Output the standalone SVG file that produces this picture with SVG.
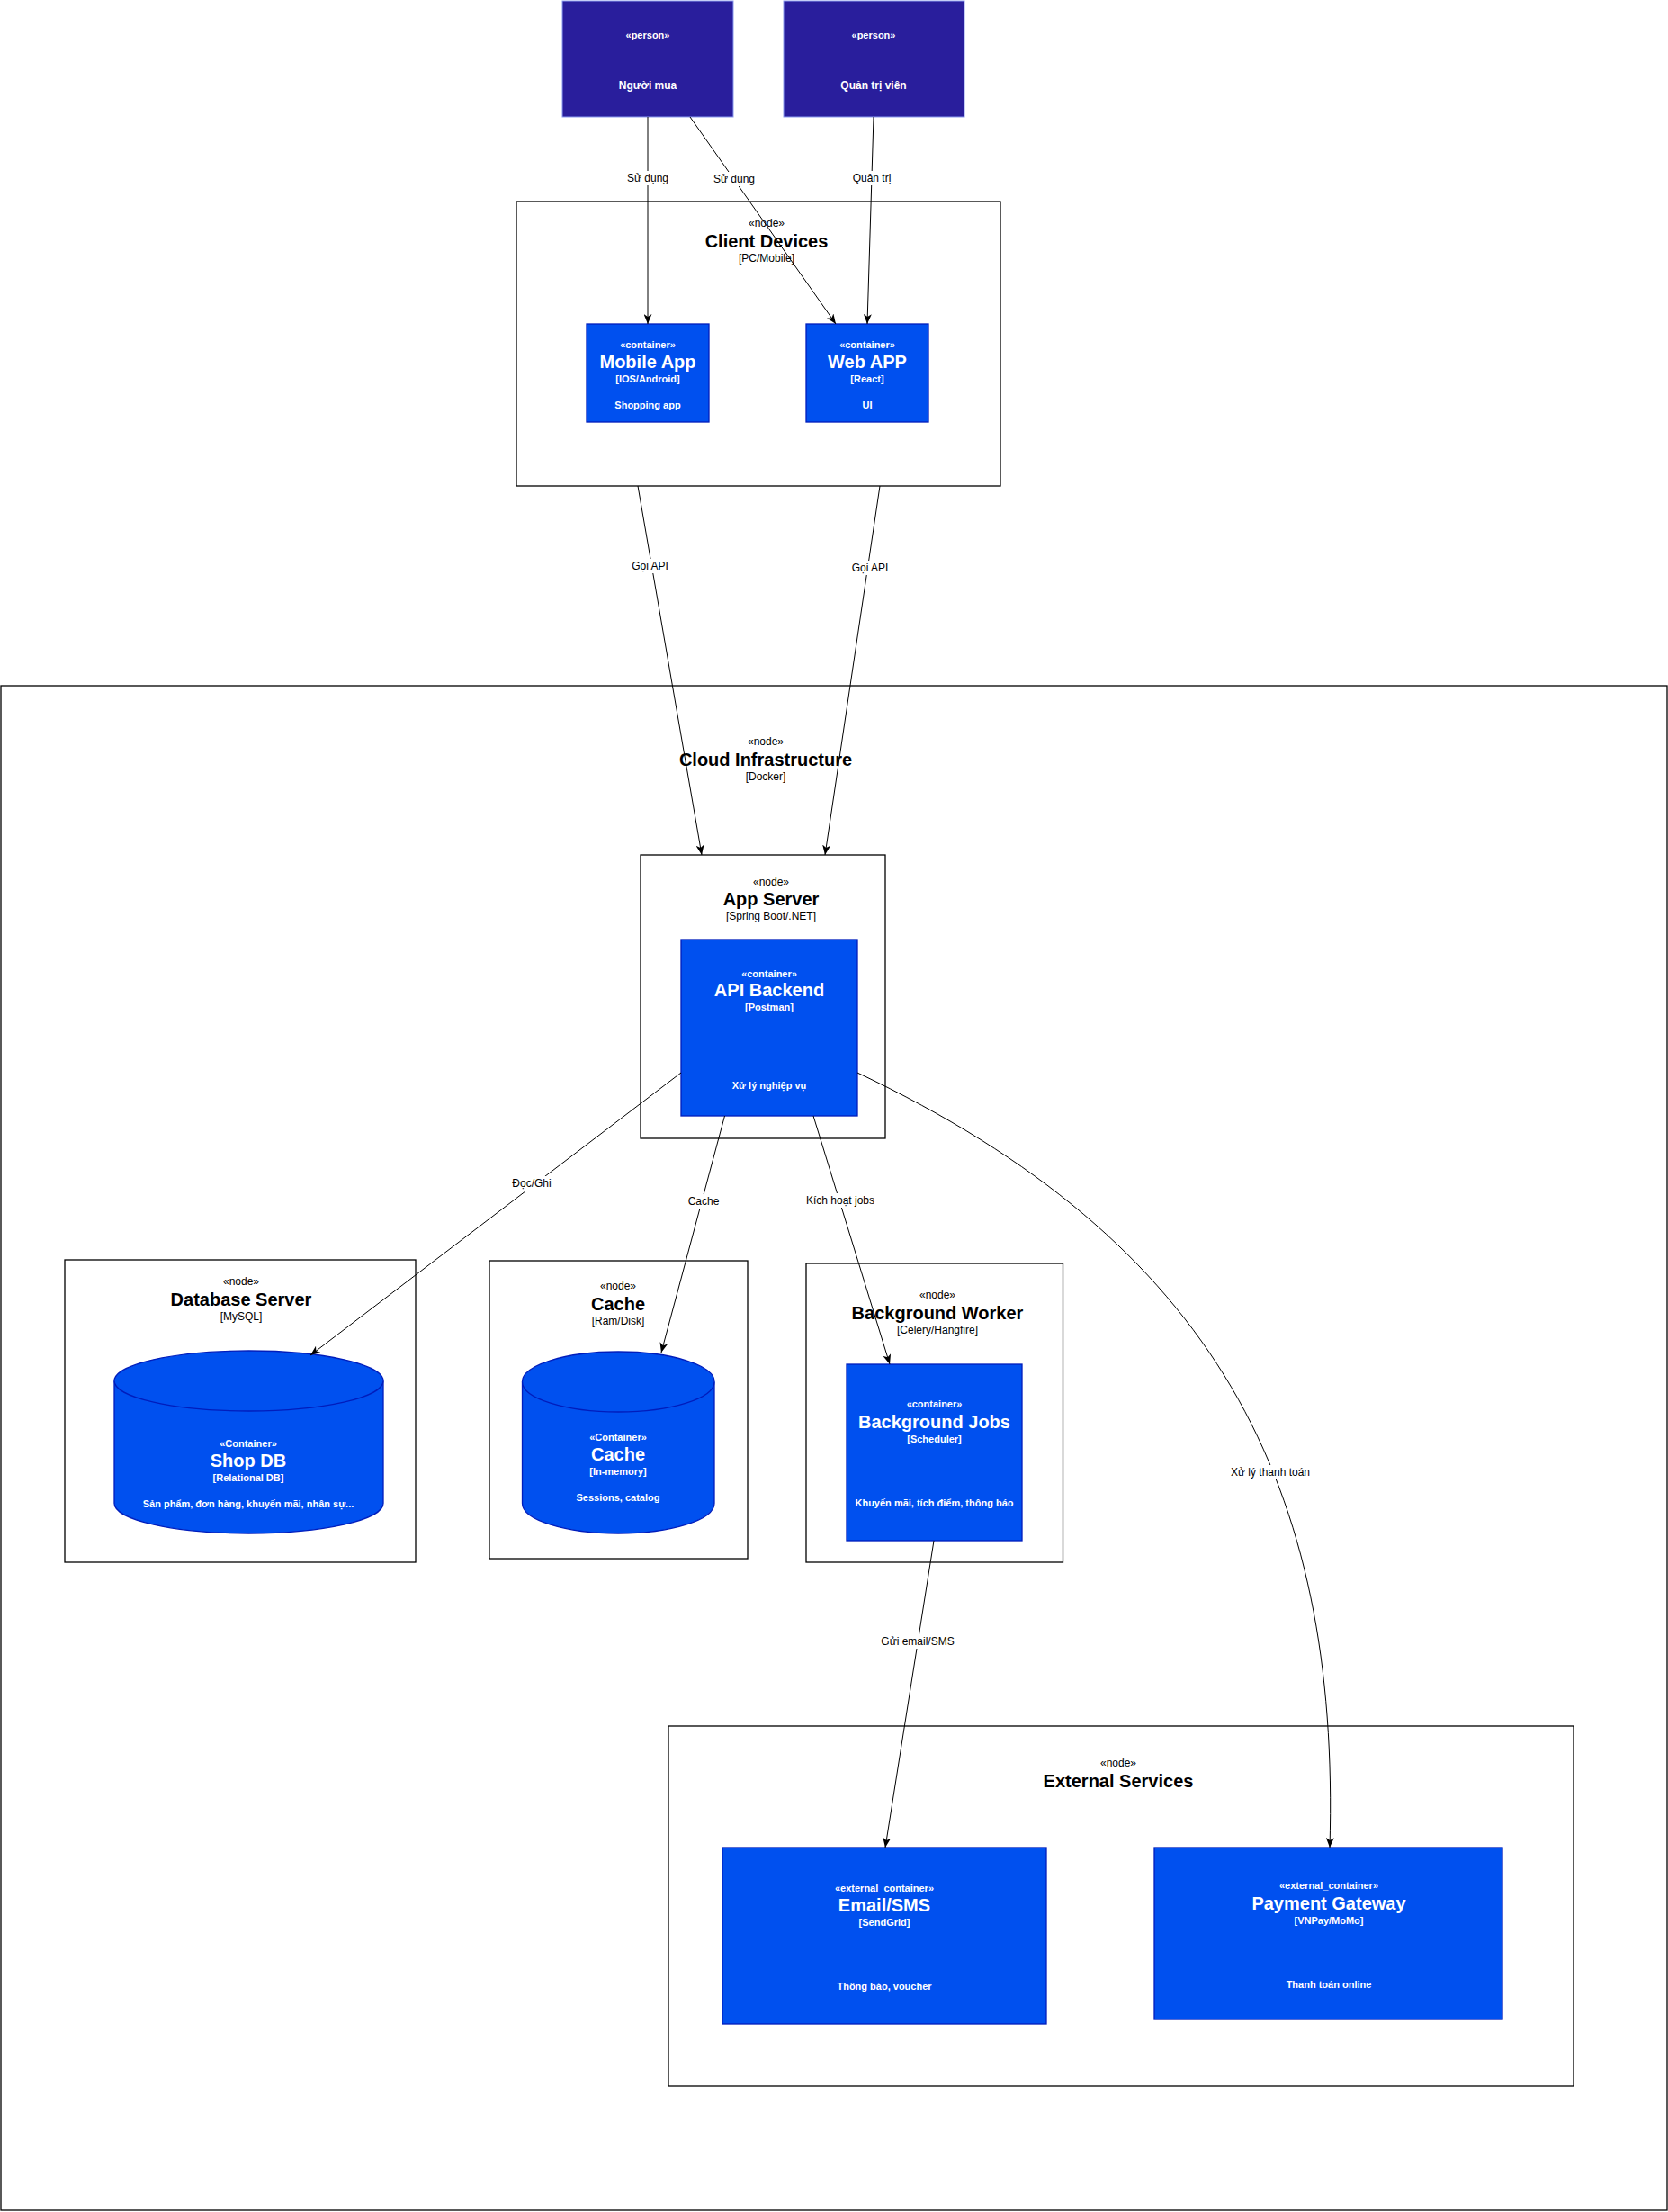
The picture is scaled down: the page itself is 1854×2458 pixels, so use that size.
<svg xmlns="http://www.w3.org/2000/svg" width="1854" height="2458" viewBox="0 0 1854 2458">
  <defs>
    <marker id="arrow" viewBox="0 0 11 9" refX="11" refY="4.5" markerWidth="11" markerHeight="9" orient="auto" markerUnits="userSpaceOnUse">
      <path d="M0,0 L11,4.5 L0,9 L3,4.5 Z" fill="#000"/>
    </marker>
    <style>
      text { font-family: "Liberation Sans", Arial, sans-serif; text-anchor: middle; dominant-baseline: central; }
      .frame { fill: none; stroke: #000; stroke-width: 1.3; }
      .person { fill: #291e9c; stroke: #8c9cf0; stroke-width: 1; }
      .box { fill: #0050ef; stroke: #001dbc; stroke-width: 1.3; }
      .st { font-size: 12px; fill: #000; }
      .nt { font-size: 20px; font-weight: bold; fill: #000; }
      .tech { font-size: 12px; fill: #000; }
      .wst { font-size: 11px; font-weight: bold; fill: #fff; }
      .wt { font-size: 20px; font-weight: bold; fill: #fff; }
      .wname { font-size: 12px; font-weight: bold; fill: #fff; }
      .edge { fill: none; stroke: #000; stroke-width: 1; marker-end: url(#arrow); }
      .lbl-bg { fill: #fff; }
      .lbl { font-size: 12px; fill: #000; }
    </style>
  </defs>

  <rect width="1854" height="2458" fill="#fff"/>

  <!-- Cloud infrastructure boundary -->
  <g id="cloud-infrastructure">
    <rect class="frame" x="1" y="762" width="1852" height="1694"/>
    <text class="st" x="851" y="824">«node»</text>
    <text class="nt" x="851" y="844">Cloud Infrastructure</text>
    <text class="tech" x="851" y="863">[Docker]</text>
  </g>

  <!-- People -->
  <g id="nguoi-mua">
    <rect class="person" x="625" y="1" width="190" height="129"/>
    <text class="wst" x="720" y="39">«person»</text>
    <text class="wname" x="720" y="95">Người mua</text>
  </g>
  <g id="quan-tri-vien">
    <rect class="person" x="871" y="1" width="201" height="129"/>
    <text class="wst" x="971" y="39">«person»</text>
    <text class="wname" x="971" y="95">Quản trị viên</text>
  </g>

  <!-- Client devices -->
  <g id="client-devices">
    <rect class="frame" x="574" y="224" width="538" height="316"/>
    <text class="st" x="852" y="248">«node»</text>
    <text class="nt" x="852" y="268">Client Devices</text>
    <text class="tech" x="852" y="287">[PC/Mobile]</text>
  </g>
  <g id="mobile-app">
    <rect class="box" x="652" y="360" width="136" height="109"/>
    <text class="wst" x="720" y="383">«container»</text>
    <text class="wt" x="720" y="402">Mobile App</text>
    <text class="wst" x="720" y="421">[IOS/Android]</text>
    <text class="wst" x="720" y="450">Shopping app</text>
  </g>
  <g id="web-app">
    <rect class="box" x="896" y="360" width="136" height="109"/>
    <text class="wst" x="964" y="383">«container»</text>
    <text class="wt" x="964" y="402">Web APP</text>
    <text class="wst" x="964" y="421">[React]</text>
    <text class="wst" x="964" y="450">UI</text>
  </g>

  <!-- App server -->
  <g id="app-server">
    <rect class="frame" x="712" y="950" width="272" height="315"/>
    <text class="st" x="857" y="980">«node»</text>
    <text class="nt" x="857" y="999">App Server</text>
    <text class="tech" x="857" y="1018">[Spring Boot/.NET]</text>
  </g>
  <g id="api-backend">
    <rect class="box" x="757" y="1044" width="196" height="196"/>
    <text class="wst" x="855" y="1082">«container»</text>
    <text class="wt" x="855" y="1100">API Backend</text>
    <text class="wst" x="855" y="1119">[Postman]</text>
    <text class="wst" x="855" y="1206">Xử lý nghiệp vụ</text>
  </g>

  <!-- Database server -->
  <g id="database-server">
    <rect class="frame" x="72" y="1400" width="390" height="336"/>
    <text class="st" x="268" y="1424">«node»</text>
    <text class="nt" x="268" y="1444">Database Server</text>
    <text class="tech" x="268" y="1463">[MySQL]</text>
  </g>
  <g id="shop-db">
    <path class="box" d="M127,1534.5 A149.5,33.5 0 0 1 426,1534.5 L426,1670.5 A149.5,33.5 0 0 1 127,1670.5 Z"/>
    <path class="box" d="M127,1534.5 A149.5,33.5 0 0 0 426,1534.5"/>
    <text class="wst" x="276" y="1604">«Container»</text>
    <text class="wt" x="276" y="1623">Shop DB</text>
    <text class="wst" x="276" y="1642">[Relational DB]</text>
    <text class="wst" x="276" y="1671">Sản phẩm, đơn hàng, khuyến mãi, nhân sự...</text>
  </g>

  <!-- Cache server -->
  <g id="cache-node">
    <rect class="frame" x="544" y="1401" width="287" height="331"/>
    <text class="st" x="687" y="1429">«node»</text>
    <text class="nt" x="687" y="1449">Cache</text>
    <text class="tech" x="687" y="1468">[Ram/Disk]</text>
  </g>
  <g id="cache">
    <path class="box" d="M580.5,1535.5 A106.75,33.5 0 0 1 794,1535.5 L794,1670.5 A106.75,33.5 0 0 1 580.5,1670.5 Z"/>
    <path class="box" d="M580.5,1535.5 A106.75,33.5 0 0 0 794,1535.5"/>
    <text class="wst" x="687" y="1597">«Container»</text>
    <text class="wt" x="687" y="1616">Cache</text>
    <text class="wst" x="687" y="1635">[In-memory]</text>
    <text class="wst" x="687" y="1664">Sessions, catalog</text>
  </g>

  <!-- Background worker -->
  <g id="background-worker">
    <rect class="frame" x="896" y="1404" width="285.5" height="332"/>
    <text class="st" x="1042" y="1439">«node»</text>
    <text class="nt" x="1042" y="1459">Background Worker</text>
    <text class="tech" x="1042" y="1478">[Celery/Hangfire]</text>
  </g>
  <g id="background-jobs">
    <rect class="box" x="941" y="1516" width="195" height="196"/>
    <text class="wst" x="1038.5" y="1560">«container»</text>
    <text class="wt" x="1038.5" y="1580">Background Jobs</text>
    <text class="wst" x="1038.5" y="1599">[Scheduler]</text>
    <text class="wst" x="1038.5" y="1670">Khuyến mãi, tích điểm, thông báo</text>
  </g>

  <!-- External services -->
  <g id="external-services">
    <rect class="frame" x="743" y="1918" width="1006" height="400"/>
    <text class="st" x="1243" y="1959">«node»</text>
    <text class="nt" x="1243" y="1979">External Services</text>
  </g>
  <g id="email-sms">
    <rect class="box" x="803" y="2053" width="360" height="196"/>
    <text class="wst" x="983" y="2098">«external_container»</text>
    <text class="wt" x="983" y="2117">Email/SMS</text>
    <text class="wst" x="983" y="2136">[SendGrid]</text>
    <text class="wst" x="983" y="2207">Thông báo, voucher</text>
  </g>
  <g id="payment-gateway">
    <rect class="box" x="1283" y="2053" width="387" height="191"/>
    <text class="wst" x="1477" y="2095">«external_container»</text>
    <text class="wt" x="1477" y="2115">Payment Gateway</text>
    <text class="wst" x="1477" y="2134">[VNPay/MoMo]</text>
    <text class="wst" x="1477" y="2205">Thanh toán online</text>
  </g>

  <!-- Connectors -->
  <g id="connectors">
    <line class="edge" x1="720" y1="130" x2="720" y2="360"/>
    <line class="edge" x1="767" y1="130" x2="929" y2="360"/>
    <line class="edge" x1="971" y1="130" x2="964" y2="360"/>
    <line class="edge" x1="709" y1="540" x2="780" y2="950"/>
    <line class="edge" x1="978" y1="540" x2="917" y2="950"/>
    <line class="edge" x1="757" y1="1192" x2="345" y2="1506"/>
    <line class="edge" x1="805.5" y1="1240" x2="735" y2="1503"/>
    <line class="edge" x1="904" y1="1240" x2="989" y2="1516"/>
    <path class="edge" d="M953,1192 C1350,1380 1490,1650 1478,2053"/>
    <line class="edge" x1="1038" y1="1712" x2="984" y2="2053"/>

    <g id="connector-labels">
      <rect class="lbl-bg" x="696" y="190" width="48" height="16"/>
      <text class="lbl" x="720" y="198">Sử dụng</text>
      <rect class="lbl-bg" x="792" y="191" width="48" height="16"/>
      <text class="lbl" x="816" y="199">Sử dụng</text>
      <rect class="lbl-bg" x="946" y="190" width="46" height="16"/>
      <text class="lbl" x="969" y="198">Quản trị</text>
      <rect class="lbl-bg" x="700" y="621" width="45" height="16"/>
      <text class="lbl" x="722.5" y="629">Gọi API</text>
      <rect class="lbl-bg" x="944.5" y="623" width="45" height="16"/>
      <text class="lbl" x="967" y="631">Gọi API</text>
      <rect class="lbl-bg" x="567.5" y="1307" width="47" height="16"/>
      <text class="lbl" x="591" y="1315">Đọc/Ghi</text>
      <rect class="lbl-bg" x="763" y="1327" width="38" height="16"/>
      <text class="lbl" x="782" y="1335">Cache</text>
      <rect class="lbl-bg" x="894.5" y="1326" width="79" height="16"/>
      <text class="lbl" x="934" y="1334">Kích hoạt jobs</text>
      <rect class="lbl-bg" x="1367" y="1628" width="90" height="16"/>
      <text class="lbl" x="1412" y="1636">Xử lý thanh toán</text>
      <rect class="lbl-bg" x="978" y="1816" width="84" height="16"/>
      <text class="lbl" x="1020" y="1824">Gửi email/SMS</text>
    </g>
  </g>
</svg>
